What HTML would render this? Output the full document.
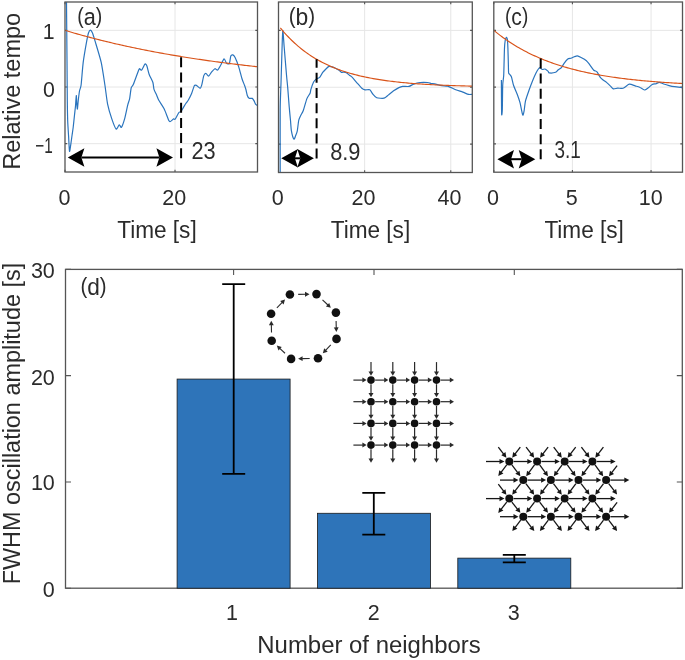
<!DOCTYPE html>
<html><head><meta charset="utf-8"><title>Figure</title>
<style>html,body{margin:0;padding:0;background:#fff;width:685px;height:660px;overflow:hidden}svg{display:block}</style>
</head><body>
<svg width="685" height="660" viewBox="0 0 685 660" font-family='"Liberation Sans", sans-serif' fill="#2b2b2b">
<rect x="0" y="0" width="685" height="660" fill="#ffffff"/>
<clipPath id="clipa"><rect x="65" y="2" width="192.5" height="170"/></clipPath>
<path d="M175 2V172M65 30.33H257.5M65 87H257.5M65 143.67H257.5" stroke="#e6e6e6" stroke-width="1" fill="none"/>
<path d="M65 172v-2.2M65 2v2.2M175 172v-2.2M175 2v2.2M65 30.33h2.2M257.5 30.33h-2.2M65 87h2.2M257.5 87h-2.2M65 143.67h2.2M257.5 143.67h-2.2" stroke="#555555" stroke-width="1.1" fill="none"/>
<g clip-path="url(#clipa)">
<path d="M66.5 2C66.56 8.77 66.91 48.57 67 60C67.09 71.43 67.22 92.88 67.3 100C67.38 107.12 67.55 116.75 67.7 121C67.85 125.25 68.39 132.87 68.6 136.4C68.81 139.94 69.23 150.46 69.5 151.3C69.77 152.14 70.6 145.5 70.9 143.6C71.2 141.7 71.83 136.9 72.1 135C72.37 133.1 72.92 129.63 73.2 127.3C73.48 124.97 74.23 117.48 74.5 115C74.77 112.52 75.29 108.28 75.5 106C75.71 103.72 76.15 95.73 76.3 95.5C76.45 95.27 76.67 102.42 76.8 104C76.93 105.58 77.23 109.47 77.4 109C77.58 108.53 78.05 102.1 78.3 100C78.55 97.9 79.17 92.75 79.5 91C79.83 89.25 80.67 88.34 81.1 85C81.53 81.66 82.55 67.51 83.2 62.4C83.85 57.29 86.08 44.63 86.7 41.2C87.32 37.77 88.07 34.3 88.5 33C88.93 31.7 89.93 30.1 90.4 30.1C90.87 30.1 91.95 31.7 92.5 33C93.05 34.3 94.08 37.77 95.1 41.2C96.11 44.63 100.06 57.29 101.2 62.4C102.34 67.51 104.15 80.14 104.9 85C105.65 89.86 106.8 100.14 107.6 104.1C108.4 108.05 110.81 116 111.8 118.9C112.79 121.81 115.22 128.31 116.1 129C116.97 129.69 118.68 124.99 119.3 124.8C119.92 124.61 120.78 128.09 121.4 127.4C122.02 126.71 123.86 121.5 124.6 118.9C125.33 116.3 127.12 107.43 127.7 105.1C128.28 102.77 129.19 100.92 129.6 98.9C130.01 96.88 130.77 89.47 131.2 87.8C131.63 86.13 132.44 86.64 133.3 84.6C134.16 82.56 137.85 72.16 138.6 70.3C139.35 68.44 139.35 68.72 139.7 68.7C140.05 68.68 140.98 70.64 141.6 70.1C142.22 69.56 144.38 64.57 145 64.1C145.62 63.63 146.41 64.89 146.9 66.1C147.39 67.31 148.5 72.59 149.2 74.5C149.9 76.41 152.34 80.76 152.9 82.5C153.46 84.24 153.57 87.94 154 89.4C154.43 90.86 156.04 93.73 156.6 95C157.16 96.27 157.93 98.69 158.8 100.3C159.68 101.91 162.93 106.44 164.1 108.8C165.27 111.16 168.06 119.02 168.8 120.5C169.54 121.98 169.84 121.69 170.4 121.5C170.96 121.31 173.04 119.17 173.6 118.9C174.16 118.63 174.58 119.95 175.2 119.2C175.82 118.45 178.22 113.41 178.9 112.5C179.58 111.59 180.19 112.45 181 111.4C181.81 110.35 184.94 104.83 185.8 103.5C186.66 102.17 187.72 101.16 188.4 100C189.08 98.84 190.91 95.27 191.6 93.6C192.29 91.93 193.74 86.66 194.3 85.7C194.86 84.74 195.72 85.1 196.4 85.4C197.08 85.7 199.48 88.33 200.1 88.3C200.72 88.27 201.27 86.58 201.7 85.1C202.13 83.62 203.31 76.98 203.8 75.6C204.29 74.22 205.34 73.24 205.9 73.3C206.46 73.36 207.92 76.26 208.6 76.1C209.28 75.94 210.96 72.76 211.7 71.9C212.44 71.04 214.21 68.91 214.9 68.7C215.59 68.49 216.91 70.53 217.6 70.1C218.29 69.67 220.04 66.32 220.8 65C221.56 63.68 223.42 58.99 224.1 58.8C224.78 58.61 225.98 62.86 226.6 63.4C227.22 63.94 228.91 64.26 229.4 63.4C229.89 62.54 230.39 56.99 230.8 56C231.21 55.01 232.4 54.71 232.9 54.9C233.4 55.09 234.41 56.18 235.1 57.6C235.79 59.02 238 64.63 238.8 67.1C239.61 69.57 241.32 76.65 242 78.8C242.68 80.95 244.14 84.25 244.6 85.5C245.06 86.75 245.59 88.33 245.9 89.5C246.22 90.67 246.93 94.48 247.3 95.5C247.67 96.52 248.52 97.86 249.1 98.2C249.68 98.54 251.72 98.09 252.3 98.4C252.88 98.72 253.73 100.24 254.1 100.9C254.47 101.56 255.13 103.56 255.5 104.1C255.87 104.64 257.09 105.34 257.3 105.5" fill="none" stroke="#2a74bd" stroke-width="1.2" stroke-linejoin="round"/>
<polyline points="65,30.33 66.6,30.82 68.21,31.3 69.81,31.77 71.42,32.24 73.02,32.71 74.62,33.18 76.23,33.64 77.83,34.09 79.44,34.54 81.04,34.99 82.65,35.44 84.25,35.88 85.85,36.31 87.46,36.75 89.06,37.18 90.67,37.6 92.27,38.02 93.88,38.44 95.48,38.86 97.08,39.27 98.69,39.67 100.29,40.08 101.9,40.48 103.5,40.88 105.1,41.27 106.71,41.66 108.31,42.05 109.92,42.43 111.52,42.81 113.12,43.19 114.73,43.57 116.33,43.94 117.94,44.3 119.54,44.67 121.15,45.03 122.75,45.39 124.35,45.74 125.96,46.1 127.56,46.45 129.17,46.79 130.77,47.14 132.38,47.48 133.98,47.81 135.58,48.15 137.19,48.48 138.79,48.81 140.4,49.14 142,49.46 143.6,49.78 145.21,50.1 146.81,50.41 148.42,50.73 150.02,51.04 151.62,51.34 153.23,51.65 154.83,51.95 156.44,52.25 158.04,52.55 159.65,52.84 161.25,53.13 162.85,53.42 164.46,53.71 166.06,53.99 167.67,54.27 169.27,54.55 170.88,54.83 172.48,55.11 174.08,55.38 175.69,55.65 177.29,55.92 178.9,56.18 180.5,56.44 182.1,56.71 183.71,56.96 185.31,57.22 186.92,57.48 188.52,57.73 190.12,57.98 191.73,58.23 193.33,58.47 194.94,58.71 196.54,58.96 198.15,59.2 199.75,59.43 201.35,59.67 202.96,59.9 204.56,60.13 206.17,60.36 207.77,60.59 209.38,60.82 210.98,61.04 212.58,61.26 214.19,61.48 215.79,61.7 217.4,61.92 219,62.13 220.6,62.34 222.21,62.55 223.81,62.76 225.42,62.97 227.02,63.17 228.62,63.38 230.23,63.58 231.83,63.78 233.44,63.98 235.04,64.17 236.65,64.37 238.25,64.56 239.85,64.75 241.46,64.94 243.06,65.13 244.67,65.32 246.27,65.5 247.88,65.69 249.48,65.87 251.08,66.05 252.69,66.23 254.29,66.41 255.9,66.58 257.5,66.76" fill="none" stroke="#D95319" stroke-width="1.15"/>
</g>
<line x1="181.1" y1="158.2" x2="181.1" y2="56.54" stroke="#000" stroke-width="2" stroke-dasharray="10 5.15"/>
<line x1="81.4" y1="157.5" x2="159.4" y2="157.5" stroke="#000" stroke-width="2"/>
<polygon points="67.8,157.5 84.4,148.3 81.4,157.5 84.4,166.7" fill="#000"/>
<polygon points="173,157.5 156.4,148.3 159.4,157.5 156.4,166.7" fill="#000"/>
<rect x="65" y="2" width="192.5" height="170" fill="none" stroke="#555555" stroke-width="1.3"/>
<clipPath id="clipb"><rect x="278.5" y="2" width="193.8" height="170.5"/></clipPath>
<path d="M364.63 2V172.5M450.77 2V172.5M278.5 30.42H472.3M278.5 87.25H472.3M278.5 144.08H472.3" stroke="#e6e6e6" stroke-width="1" fill="none"/>
<path d="M278.5 172.5v-2.2M278.5 2v2.2M364.63 172.5v-2.2M364.63 2v2.2M450.77 172.5v-2.2M450.77 2v2.2M278.5 30.42h2.2M472.3 30.42h-2.2M278.5 87.25h2.2M472.3 87.25h-2.2M278.5 144.08h2.2M472.3 144.08h-2.2" stroke="#555555" stroke-width="1.1" fill="none"/>
<g clip-path="url(#clipb)">
<path d="M280.2 172C280.2 164.71 280.11 119.86 280.2 109.5C280.29 99.14 280.79 90.14 281 83.2C281.21 76.26 281.79 56.15 282 50C282.21 43.85 282.54 30.82 282.8 30.5C283.06 30.18 283.77 42.11 284.2 47.3C284.63 52.49 286.08 70.18 286.5 75C286.92 79.82 287.49 84.89 287.8 88.6C288.12 92.31 288.88 103.08 289.2 106.8C289.51 110.52 290.24 117.7 290.5 120.5C290.76 123.3 291 128.62 291.4 130.8C291.8 132.98 293.41 138.62 293.9 139.2C294.39 139.78 295.2 136.78 295.6 135.8C296 134.82 296.94 132.59 297.3 130.8C297.66 129.02 298.33 122.24 298.7 120.5C299.07 118.76 299.96 117.07 300.5 115.9C301.04 114.73 302.55 112.52 303.3 110.5C304.05 108.48 306.11 100.62 306.9 98.6C307.69 96.58 309.63 94.27 310.1 93.2C310.57 92.13 310.49 90.7 310.9 89.4C311.31 88.11 312.99 83.3 313.6 82.1C314.21 80.9 315.39 79.66 316.1 79.1C316.81 78.54 318.93 78.08 319.7 77.3C320.47 76.52 321.99 73.36 322.7 72.4C323.41 71.44 325.09 69.8 325.8 69.1C326.51 68.4 328.17 66.68 328.8 66.4C329.43 66.12 330.42 66.49 331.2 66.7C331.98 66.91 334.58 67.78 335.5 68.2C336.42 68.62 338.4 69.81 339.1 70.3C339.8 70.79 340.94 72.19 341.5 72.4C342.06 72.61 343.33 72.06 343.9 72.1C344.47 72.13 345.76 72.34 346.4 72.7C347.04 73.06 348.71 74.65 349.4 75.2C350.09 75.75 351.47 76.57 352.3 77.4C353.13 78.23 355.39 81.04 356.5 82.3C357.61 83.56 360.81 87.33 361.8 88.2C362.79 89.08 364.07 89.61 365 89.8C365.93 89.99 368.94 89.37 369.8 89.8C370.66 90.23 371.59 92.58 372.4 93.5C373.2 94.42 375.33 97.15 376.7 97.7C378.06 98.25 382.75 98.5 384.1 98.2C385.45 97.9 387.19 95.96 388.3 95.1C389.41 94.24 392.36 91.67 393.6 90.8C394.84 89.92 397.85 88.11 398.9 87.6C399.95 87.09 401.42 86.54 402.6 86.4C403.78 86.26 407.7 86.67 409 86.4C410.3 86.13 412.4 84.55 413.7 84.1C415 83.64 418.47 82.69 420.1 82.5C421.73 82.31 426.4 82.38 427.7 82.5C429 82.62 430.38 83.34 431.2 83.5C432.02 83.66 433.47 83.66 434.7 83.9C435.93 84.15 440.19 85.33 441.7 85.6C443.2 85.87 445.97 85.72 447.6 86.2C449.23 86.68 453.93 89.01 455.7 89.7C457.47 90.39 461.3 91.55 462.8 92.1C464.31 92.65 467.52 94.13 468.6 94.4C469.69 94.67 471.69 94.4 472.1 94.4" fill="none" stroke="#2a74bd" stroke-width="1.2" stroke-linejoin="round"/>
<polyline points="280.39,27.96 281.99,29.89 283.59,31.77 285.19,33.57 286.79,35.33 288.39,37.02 289.99,38.66 291.59,40.24 293.19,41.77 294.79,43.26 296.39,44.69 297.99,46.08 299.59,47.42 301.18,48.72 302.78,49.98 304.38,51.19 305.98,52.37 307.58,53.51 309.18,54.61 310.78,55.67 312.38,56.7 313.98,57.7 315.58,58.66 317.18,59.59 318.78,60.5 320.38,61.37 321.97,62.21 323.57,63.03 325.17,63.82 326.77,64.58 328.37,65.32 329.97,66.04 331.57,66.73 333.17,67.4 334.77,68.05 336.37,68.67 337.97,69.28 339.57,69.86 341.16,70.43 342.76,70.98 344.36,71.51 345.96,72.02 347.56,72.52 349.16,73 350.76,73.46 352.36,73.91 353.96,74.35 355.56,74.77 357.16,75.18 358.76,75.57 360.36,75.95 361.95,76.32 363.55,76.68 365.15,77.02 366.75,77.35 368.35,77.68 369.95,77.99 371.55,78.29 373.15,78.58 374.75,78.87 376.35,79.14 377.95,79.4 379.55,79.66 381.15,79.91 382.74,80.15 384.34,80.38 385.94,80.6 387.54,80.82 389.14,81.03 390.74,81.23 392.34,81.43 393.94,81.62 395.54,81.8 397.14,81.98 398.74,82.15 400.34,82.32 401.93,82.48 403.53,82.63 405.13,82.78 406.73,82.93 408.33,83.07 409.93,83.21 411.53,83.34 413.13,83.47 414.73,83.59 416.33,83.71 417.93,83.82 419.53,83.94 421.13,84.04 422.72,84.15 424.32,84.25 425.92,84.35 427.52,84.44 429.12,84.53 430.72,84.62 432.32,84.71 433.92,84.79 435.52,84.87 437.12,84.95 438.72,85.02 440.32,85.1 441.92,85.17 443.51,85.23 445.11,85.3 446.71,85.36 448.31,85.43 449.91,85.49 451.51,85.54 453.11,85.6 454.71,85.65 456.31,85.7 457.91,85.75 459.51,85.8 461.11,85.85 462.7,85.9 464.3,85.94 465.9,85.98 467.5,86.02 469.1,86.06 470.7,86.1 472.3,86.14" fill="none" stroke="#D95319" stroke-width="1.15"/>
</g>
<line x1="316.6" y1="158.6" x2="316.6" y2="59.26" stroke="#000" stroke-width="2" stroke-dasharray="10 5.15"/>
<line x1="294.9" y1="158.3" x2="300.3" y2="158.3" stroke="#000" stroke-width="2"/>
<polygon points="281.3,158.3 297.9,149.1 294.9,158.3 297.9,167.5" fill="#000"/>
<polygon points="313.9,158.3 297.3,149.1 300.3,158.3 297.3,167.5" fill="#000"/>
<rect x="278.5" y="2" width="193.8" height="170.5" fill="none" stroke="#555555" stroke-width="1.3"/>
<clipPath id="clipc"><rect x="493.8" y="2" width="188.7" height="170.2"/></clipPath>
<path d="M572.42 2V172.2M651.05 2V172.2M493.8 30.37H682.5M493.8 87.1H682.5M493.8 143.83H682.5" stroke="#e6e6e6" stroke-width="1" fill="none"/>
<path d="M493.8 172.2v-2.2M493.8 2v2.2M572.42 172.2v-2.2M572.42 2v2.2M651.05 172.2v-2.2M651.05 2v2.2M493.8 30.37h2.2M682.5 30.37h-2.2M493.8 87.1h2.2M682.5 87.1h-2.2M493.8 143.83h2.2M682.5 143.83h-2.2" stroke="#555555" stroke-width="1.1" fill="none"/>
<g clip-path="url(#clipc)">
<path d="M501.4 80C501.42 83.92 501.5 110.1 501.6 113.6C501.71 117.1 502.17 113.28 502.3 110C502.43 106.72 502.54 89.53 502.7 85.5C502.86 81.47 503.54 78.24 503.7 75.5C503.86 72.76 504.01 65.21 504.1 62C504.19 58.79 504.37 50.51 504.5 48C504.63 45.49 504.98 41.75 505.2 40.5C505.42 39.25 506.14 37.42 506.4 37.3C506.66 37.18 507.22 38.25 507.4 39.5C507.57 40.75 507.79 45.38 507.9 48C508 50.62 508.22 59.08 508.3 62C508.38 64.92 508.51 71.65 508.6 73C508.69 74.35 508.77 73.16 509.1 73.6C509.43 74.04 510.88 75.41 511.4 76.8C511.92 78.19 512.91 83.44 513.6 85.5C514.29 87.56 516.55 92.49 517.3 94.5C518.05 96.51 519.37 100.31 520 102.7C520.63 105.09 522.22 114.04 522.7 115C523.18 115.96 523.77 112.55 524.1 110.9C524.43 109.26 524.92 103.34 525.5 100.9C526.08 98.46 528.26 92.38 529.1 90C529.94 87.62 531.9 82.48 532.7 80.5C533.5 78.52 535.38 74.28 536 73C536.62 71.72 537.53 70.12 538 69.5C538.47 68.88 539.5 67.7 540 67.7C540.5 67.7 541.72 69.35 542.3 69.5C542.88 69.65 544.31 68.78 545 69C545.69 69.22 547.71 70.95 548.2 71.4C548.69 71.86 548.34 72.8 549.2 72.9C550.06 73.01 554.54 72.67 555.6 72.3C556.66 71.93 557.62 70.25 558.3 69.7C558.98 69.15 560.72 68.35 561.4 67.6C562.08 66.85 563.35 64.29 564.1 63.3C564.85 62.31 567 59.7 567.8 59.1C568.6 58.51 570.25 58.47 571 58.2C571.75 57.93 573.47 57.07 574.2 56.8C574.94 56.53 576.5 55.82 577.3 55.9C578.1 55.98 580.04 56.94 581.1 57.5C582.16 58.06 585.42 59.9 586.4 60.7C587.38 61.51 588.64 63.29 589.5 64.4C590.36 65.51 592.92 69.34 593.8 70.2C594.67 71.06 596.26 71 597 71.8C597.74 72.6 599.42 76.17 600.1 77.1C600.78 78.03 602.05 79.18 602.8 79.8C603.55 80.42 605.66 81.72 606.5 82.4C607.34 83.08 609.21 84.84 610 85.6C610.79 86.36 612.4 88.61 613.3 88.9C614.2 89.19 616.56 88.17 617.7 88.1C618.84 88.03 621.76 88.75 623.1 88.3C624.44 87.84 627.79 84.48 629.2 84.2C630.61 83.92 633.99 85.55 635.2 85.9C636.41 86.25 638.51 86.72 639.6 87.2C640.69 87.68 643.49 89.93 644.5 90C645.51 90.07 647.4 88.44 648.3 87.8C649.2 87.16 651.3 84.98 652.2 84.5C653.1 84.02 655.17 83.96 656 83.7C656.83 83.44 658.4 82.27 659.3 82.3C660.2 82.33 662.56 83.61 663.7 84C664.84 84.39 667.83 85.28 669.1 85.6C670.37 85.91 673.06 86.47 674.6 86.7C676.14 86.93 681.4 87.49 682.3 87.6" fill="none" stroke="#2a74bd" stroke-width="1.2" stroke-linejoin="round"/>
<polyline points="493.8,30.37 495.37,31.66 496.94,32.92 498.52,34.15 500.09,35.35 501.66,36.53 503.24,37.68 504.81,38.8 506.38,39.9 507.95,40.97 509.53,42.02 511.1,43.04 512.67,44.04 514.24,45.02 515.82,45.98 517.39,46.91 518.96,47.83 520.53,48.72 522.11,49.59 523.68,50.44 525.25,51.28 526.82,52.09 528.39,52.89 529.97,53.66 531.54,54.42 533.11,55.17 534.69,55.89 536.26,56.6 537.83,57.29 539.4,57.97 540.98,58.63 542.55,59.28 544.12,59.91 545.69,60.53 547.26,61.13 548.84,61.73 550.41,62.3 551.98,62.87 553.56,63.42 555.13,63.95 556.7,64.48 558.27,64.99 559.85,65.5 561.42,65.99 562.99,66.47 564.56,66.94 566.13,67.39 567.71,67.84 569.28,68.28 570.85,68.71 572.42,69.13 574,69.53 575.57,69.93 577.14,70.32 578.72,70.7 580.29,71.08 581.86,71.44 583.43,71.8 585,72.15 586.58,72.49 588.15,72.82 589.72,73.14 591.3,73.46 592.87,73.77 594.44,74.07 596.01,74.37 597.59,74.66 599.16,74.94 600.73,75.22 602.3,75.49 603.88,75.75 605.45,76.01 607.02,76.26 608.59,76.51 610.16,76.75 611.74,76.98 613.31,77.21 614.88,77.44 616.46,77.66 618.03,77.87 619.6,78.08 621.17,78.29 622.75,78.49 624.32,78.68 625.89,78.87 627.46,79.06 629.03,79.24 630.61,79.42 632.18,79.6 633.75,79.77 635.33,79.93 636.9,80.1 638.47,80.26 640.04,80.41 641.62,80.56 643.19,80.71 644.76,80.86 646.33,81 647.9,81.14 649.48,81.27 651.05,81.41 652.62,81.53 654.19,81.66 655.77,81.78 657.34,81.91 658.91,82.02 660.49,82.14 662.06,82.25 663.63,82.36 665.2,82.47 666.77,82.57 668.35,82.68 669.92,82.78 671.49,82.88 673.07,82.97 674.64,83.07 676.21,83.16 677.78,83.25 679.36,83.34 680.93,83.42 682.5,83.5" fill="none" stroke="#D95319" stroke-width="1.15"/>
</g>
<line x1="540.7" y1="159.3" x2="540.7" y2="58.52" stroke="#000" stroke-width="2" stroke-dasharray="10 5.15"/>
<line x1="511" y1="159.2" x2="521.7" y2="159.2" stroke="#000" stroke-width="2"/>
<polygon points="497.4,159.2 514,150 511,159.2 514,168.4" fill="#000"/>
<polygon points="535.3,159.2 518.7,150 521.7,159.2 518.7,168.4" fill="#000"/>
<rect x="493.8" y="2" width="188.7" height="170.2" fill="none" stroke="#555555" stroke-width="1.3"/>
<path d="M233.6 588.2v-5.5M233.6 269.4v5.5M374 588.2v-5.5M374 269.4v5.5M514.3 588.2v-5.5M514.3 269.4v5.5M65.5 588.2h5.5M682.3 588.2h-5.5M65.5 481.93h5.5M682.3 481.93h-5.5M65.5 375.67h5.5M682.3 375.67h-5.5M65.5 269.4h5.5M682.3 269.4h-5.5" stroke="#555555" stroke-width="1.1" fill="none"/>
<rect x="65.5" y="269.4" width="616.8" height="318.8" fill="none" stroke="#555555" stroke-width="1.3"/>
<rect x="177.1" y="379.07" width="113" height="209.13" fill="#2E74B9" stroke="#1a1a1a" stroke-width="0.8"/>
<rect x="317.5" y="513.28" width="113" height="74.92" fill="#2E74B9" stroke="#1a1a1a" stroke-width="0.8"/>
<rect x="457.8" y="558.13" width="113" height="30.07" fill="#2E74B9" stroke="#1a1a1a" stroke-width="0.8"/>
<path d="M233.7 284.1V473.8M222.2 284.1h23M222.2 473.8h23" stroke="#000" stroke-width="1.8" fill="none"/>
<path d="M373.8 492.8V534.6M362.3 492.8h23M362.3 534.6h23" stroke="#000" stroke-width="1.8" fill="none"/>
<path d="M514.3 554.9V562.3M502.8 554.9h23M502.8 562.3h23" stroke="#000" stroke-width="1.8" fill="none"/>
<line x1="298.2" y1="294.38" x2="305.5" y2="294.27" stroke="#2a2a2a" stroke-width="1.1"/><polygon points="309.5,294.21 305.04,296.67 304.97,291.87" fill="#2a2a2a"/>
<line x1="322.51" y1="299.83" x2="327.94" y2="305.01" stroke="#2a2a2a" stroke-width="1.1"/><polygon points="330.83,307.77 325.92,306.4 329.23,302.93" fill="#2a2a2a"/>
<line x1="336.09" y1="320.9" x2="336.25" y2="327.9" stroke="#2a2a2a" stroke-width="1.1"/><polygon points="336.34,331.9 333.84,327.46 338.64,327.35" fill="#2a2a2a"/>
<line x1="330.77" y1="344.91" x2="325.59" y2="350.34" stroke="#2a2a2a" stroke-width="1.1"/><polygon points="322.83,353.23 324.2,348.32 327.67,351.63" fill="#2a2a2a"/>
<line x1="309.7" y1="358.49" x2="302.1" y2="358.65" stroke="#2a2a2a" stroke-width="1.1"/><polygon points="298.1,358.74 302.54,356.24 302.65,361.04" fill="#2a2a2a"/>
<line x1="285.03" y1="353.24" x2="279.74" y2="348.3" stroke="#2a2a2a" stroke-width="1.1"/><polygon points="276.82,345.58 281.75,346.89 278.47,350.4" fill="#2a2a2a"/>
<line x1="271.52" y1="332.5" x2="271.34" y2="324.8" stroke="#2a2a2a" stroke-width="1.1"/><polygon points="271.26,320.8 273.75,325.24 268.96,325.35" fill="#2a2a2a"/>
<line x1="276.89" y1="307.85" x2="282.22" y2="302.38" stroke="#2a2a2a" stroke-width="1.1"/><polygon points="285.02,299.51 283.59,304.41 280.16,301.06" fill="#2a2a2a"/>
<circle cx="289.9" cy="294.5" r="4.3" fill="#111"/>
<circle cx="316.5" cy="294.1" r="4.3" fill="#111"/>
<circle cx="335.9" cy="312.6" r="4.3" fill="#111"/>
<circle cx="336.5" cy="338.9" r="4.3" fill="#111"/>
<circle cx="318" cy="358.3" r="4.3" fill="#111"/>
<circle cx="291.1" cy="358.9" r="4.3" fill="#111"/>
<circle cx="271.7" cy="340.8" r="4.3" fill="#111"/>
<circle cx="271.1" cy="313.8" r="4.3" fill="#111"/>
<line x1="353.4" y1="380.1" x2="362.9" y2="380.1" stroke="#2a2a2a" stroke-width="1.2"/><polygon points="366.6,380.1 362.4,382.6 362.4,377.6" fill="#2a2a2a"/>
<line x1="375.1" y1="380.1" x2="384.7" y2="380.1" stroke="#2a2a2a" stroke-width="1.2"/><polygon points="388.4,380.1 384.2,382.6 384.2,377.6" fill="#2a2a2a"/>
<line x1="396.9" y1="380.1" x2="406.5" y2="380.1" stroke="#2a2a2a" stroke-width="1.2"/><polygon points="410.2,380.1 406,382.6 406,377.6" fill="#2a2a2a"/>
<line x1="418.7" y1="380.1" x2="428.4" y2="380.1" stroke="#2a2a2a" stroke-width="1.2"/><polygon points="432.1,380.1 427.9,382.6 427.9,377.6" fill="#2a2a2a"/>
<line x1="440.6" y1="380.1" x2="450.3" y2="380.1" stroke="#2a2a2a" stroke-width="1.2"/><polygon points="454,380.1 449.8,382.6 449.8,377.6" fill="#2a2a2a"/>
<line x1="353.4" y1="401.7" x2="362.9" y2="401.7" stroke="#2a2a2a" stroke-width="1.2"/><polygon points="366.6,401.7 362.4,404.2 362.4,399.2" fill="#2a2a2a"/>
<line x1="375.1" y1="401.7" x2="384.7" y2="401.7" stroke="#2a2a2a" stroke-width="1.2"/><polygon points="388.4,401.7 384.2,404.2 384.2,399.2" fill="#2a2a2a"/>
<line x1="396.9" y1="401.7" x2="406.5" y2="401.7" stroke="#2a2a2a" stroke-width="1.2"/><polygon points="410.2,401.7 406,404.2 406,399.2" fill="#2a2a2a"/>
<line x1="418.7" y1="401.7" x2="428.4" y2="401.7" stroke="#2a2a2a" stroke-width="1.2"/><polygon points="432.1,401.7 427.9,404.2 427.9,399.2" fill="#2a2a2a"/>
<line x1="440.6" y1="401.7" x2="450.3" y2="401.7" stroke="#2a2a2a" stroke-width="1.2"/><polygon points="454,401.7 449.8,404.2 449.8,399.2" fill="#2a2a2a"/>
<line x1="353.4" y1="423.4" x2="362.9" y2="423.4" stroke="#2a2a2a" stroke-width="1.2"/><polygon points="366.6,423.4 362.4,425.9 362.4,420.9" fill="#2a2a2a"/>
<line x1="375.1" y1="423.4" x2="384.7" y2="423.4" stroke="#2a2a2a" stroke-width="1.2"/><polygon points="388.4,423.4 384.2,425.9 384.2,420.9" fill="#2a2a2a"/>
<line x1="396.9" y1="423.4" x2="406.5" y2="423.4" stroke="#2a2a2a" stroke-width="1.2"/><polygon points="410.2,423.4 406,425.9 406,420.9" fill="#2a2a2a"/>
<line x1="418.7" y1="423.4" x2="428.4" y2="423.4" stroke="#2a2a2a" stroke-width="1.2"/><polygon points="432.1,423.4 427.9,425.9 427.9,420.9" fill="#2a2a2a"/>
<line x1="440.6" y1="423.4" x2="450.3" y2="423.4" stroke="#2a2a2a" stroke-width="1.2"/><polygon points="454,423.4 449.8,425.9 449.8,420.9" fill="#2a2a2a"/>
<line x1="353.4" y1="445.1" x2="362.9" y2="445.1" stroke="#2a2a2a" stroke-width="1.2"/><polygon points="366.6,445.1 362.4,447.6 362.4,442.6" fill="#2a2a2a"/>
<line x1="375.1" y1="445.1" x2="384.7" y2="445.1" stroke="#2a2a2a" stroke-width="1.2"/><polygon points="388.4,445.1 384.2,447.6 384.2,442.6" fill="#2a2a2a"/>
<line x1="396.9" y1="445.1" x2="406.5" y2="445.1" stroke="#2a2a2a" stroke-width="1.2"/><polygon points="410.2,445.1 406,447.6 406,442.6" fill="#2a2a2a"/>
<line x1="418.7" y1="445.1" x2="428.4" y2="445.1" stroke="#2a2a2a" stroke-width="1.2"/><polygon points="432.1,445.1 427.9,447.6 427.9,442.6" fill="#2a2a2a"/>
<line x1="440.6" y1="445.1" x2="450.3" y2="445.1" stroke="#2a2a2a" stroke-width="1.2"/><polygon points="454,445.1 449.8,447.6 449.8,442.6" fill="#2a2a2a"/>
<line x1="371" y1="362.1" x2="371" y2="372" stroke="#2a2a2a" stroke-width="1.2"/><polygon points="371,375.7 368.5,371.5 373.5,371.5" fill="#2a2a2a"/>
<line x1="371" y1="384.2" x2="371" y2="393.6" stroke="#2a2a2a" stroke-width="1.2"/><polygon points="371,397.3 368.5,393.1 373.5,393.1" fill="#2a2a2a"/>
<line x1="371" y1="405.8" x2="371" y2="415.3" stroke="#2a2a2a" stroke-width="1.2"/><polygon points="371,419 368.5,414.8 373.5,414.8" fill="#2a2a2a"/>
<line x1="371" y1="427.5" x2="371" y2="437" stroke="#2a2a2a" stroke-width="1.2"/><polygon points="371,440.7 368.5,436.5 373.5,436.5" fill="#2a2a2a"/>
<line x1="371" y1="449.2" x2="371" y2="459" stroke="#2a2a2a" stroke-width="1.2"/><polygon points="371,462.7 368.5,458.5 373.5,458.5" fill="#2a2a2a"/>
<line x1="392.8" y1="362.1" x2="392.8" y2="372" stroke="#2a2a2a" stroke-width="1.2"/><polygon points="392.8,375.7 390.3,371.5 395.3,371.5" fill="#2a2a2a"/>
<line x1="392.8" y1="384.2" x2="392.8" y2="393.6" stroke="#2a2a2a" stroke-width="1.2"/><polygon points="392.8,397.3 390.3,393.1 395.3,393.1" fill="#2a2a2a"/>
<line x1="392.8" y1="405.8" x2="392.8" y2="415.3" stroke="#2a2a2a" stroke-width="1.2"/><polygon points="392.8,419 390.3,414.8 395.3,414.8" fill="#2a2a2a"/>
<line x1="392.8" y1="427.5" x2="392.8" y2="437" stroke="#2a2a2a" stroke-width="1.2"/><polygon points="392.8,440.7 390.3,436.5 395.3,436.5" fill="#2a2a2a"/>
<line x1="392.8" y1="449.2" x2="392.8" y2="459" stroke="#2a2a2a" stroke-width="1.2"/><polygon points="392.8,462.7 390.3,458.5 395.3,458.5" fill="#2a2a2a"/>
<line x1="414.6" y1="362.1" x2="414.6" y2="372" stroke="#2a2a2a" stroke-width="1.2"/><polygon points="414.6,375.7 412.1,371.5 417.1,371.5" fill="#2a2a2a"/>
<line x1="414.6" y1="384.2" x2="414.6" y2="393.6" stroke="#2a2a2a" stroke-width="1.2"/><polygon points="414.6,397.3 412.1,393.1 417.1,393.1" fill="#2a2a2a"/>
<line x1="414.6" y1="405.8" x2="414.6" y2="415.3" stroke="#2a2a2a" stroke-width="1.2"/><polygon points="414.6,419 412.1,414.8 417.1,414.8" fill="#2a2a2a"/>
<line x1="414.6" y1="427.5" x2="414.6" y2="437" stroke="#2a2a2a" stroke-width="1.2"/><polygon points="414.6,440.7 412.1,436.5 417.1,436.5" fill="#2a2a2a"/>
<line x1="414.6" y1="449.2" x2="414.6" y2="459" stroke="#2a2a2a" stroke-width="1.2"/><polygon points="414.6,462.7 412.1,458.5 417.1,458.5" fill="#2a2a2a"/>
<line x1="436.5" y1="362.1" x2="436.5" y2="372" stroke="#2a2a2a" stroke-width="1.2"/><polygon points="436.5,375.7 434,371.5 439,371.5" fill="#2a2a2a"/>
<line x1="436.5" y1="384.2" x2="436.5" y2="393.6" stroke="#2a2a2a" stroke-width="1.2"/><polygon points="436.5,397.3 434,393.1 439,393.1" fill="#2a2a2a"/>
<line x1="436.5" y1="405.8" x2="436.5" y2="415.3" stroke="#2a2a2a" stroke-width="1.2"/><polygon points="436.5,419 434,414.8 439,414.8" fill="#2a2a2a"/>
<line x1="436.5" y1="427.5" x2="436.5" y2="437" stroke="#2a2a2a" stroke-width="1.2"/><polygon points="436.5,440.7 434,436.5 439,436.5" fill="#2a2a2a"/>
<line x1="436.5" y1="449.2" x2="436.5" y2="459" stroke="#2a2a2a" stroke-width="1.2"/><polygon points="436.5,462.7 434,458.5 439,458.5" fill="#2a2a2a"/>
<circle cx="371" cy="380.1" r="3.8" fill="#111"/>
<circle cx="371" cy="401.7" r="3.8" fill="#111"/>
<circle cx="371" cy="423.4" r="3.8" fill="#111"/>
<circle cx="371" cy="445.1" r="3.8" fill="#111"/>
<circle cx="392.8" cy="380.1" r="3.8" fill="#111"/>
<circle cx="392.8" cy="401.7" r="3.8" fill="#111"/>
<circle cx="392.8" cy="423.4" r="3.8" fill="#111"/>
<circle cx="392.8" cy="445.1" r="3.8" fill="#111"/>
<circle cx="414.6" cy="380.1" r="3.8" fill="#111"/>
<circle cx="414.6" cy="401.7" r="3.8" fill="#111"/>
<circle cx="414.6" cy="423.4" r="3.8" fill="#111"/>
<circle cx="414.6" cy="445.1" r="3.8" fill="#111"/>
<circle cx="436.5" cy="380.1" r="3.8" fill="#111"/>
<circle cx="436.5" cy="401.7" r="3.8" fill="#111"/>
<circle cx="436.5" cy="423.4" r="3.8" fill="#111"/>
<circle cx="436.5" cy="445.1" r="3.8" fill="#111"/>
<line x1="486" y1="461.5" x2="500" y2="461.5" stroke="#161616" stroke-width="1.3"/><polygon points="504.5,461.5 499.5,464.1 499.5,458.9" fill="#161616"/>
<line x1="513.6" y1="461.5" x2="527.8" y2="461.5" stroke="#161616" stroke-width="1.3"/><polygon points="532.3,461.5 527.3,464.1 527.3,458.9" fill="#161616"/>
<line x1="541.4" y1="461.5" x2="555.4" y2="461.5" stroke="#161616" stroke-width="1.3"/><polygon points="559.9,461.5 554.9,464.1 554.9,458.9" fill="#161616"/>
<line x1="569" y1="461.5" x2="583.1" y2="461.5" stroke="#161616" stroke-width="1.3"/><polygon points="587.6,461.5 582.6,464.1 582.6,458.9" fill="#161616"/>
<line x1="596.7" y1="461.5" x2="611.1" y2="461.5" stroke="#161616" stroke-width="1.3"/><polygon points="615.6,461.5 610.6,464.1 610.6,458.9" fill="#161616"/>
<line x1="500" y1="480.1" x2="514" y2="480.1" stroke="#161616" stroke-width="1.3"/><polygon points="518.5,480.1 513.5,482.7 513.5,477.5" fill="#161616"/>
<line x1="527.6" y1="480.1" x2="541.6" y2="480.1" stroke="#161616" stroke-width="1.3"/><polygon points="546.1,480.1 541.1,482.7 541.1,477.5" fill="#161616"/>
<line x1="555.2" y1="480.1" x2="569.2" y2="480.1" stroke="#161616" stroke-width="1.3"/><polygon points="573.7,480.1 568.7,482.7 568.7,477.5" fill="#161616"/>
<line x1="582.8" y1="480.1" x2="596.8" y2="480.1" stroke="#161616" stroke-width="1.3"/><polygon points="601.3,480.1 596.3,482.7 596.3,477.5" fill="#161616"/>
<line x1="610.4" y1="480.1" x2="624.8" y2="480.1" stroke="#161616" stroke-width="1.3"/><polygon points="629.3,480.1 624.3,482.7 624.3,477.5" fill="#161616"/>
<line x1="486" y1="498.6" x2="500" y2="498.6" stroke="#161616" stroke-width="1.3"/><polygon points="504.5,498.6 499.5,501.2 499.5,496" fill="#161616"/>
<line x1="513.6" y1="498.6" x2="527.8" y2="498.6" stroke="#161616" stroke-width="1.3"/><polygon points="532.3,498.6 527.3,501.2 527.3,496" fill="#161616"/>
<line x1="541.4" y1="498.6" x2="555.4" y2="498.6" stroke="#161616" stroke-width="1.3"/><polygon points="559.9,498.6 554.9,501.2 554.9,496" fill="#161616"/>
<line x1="569" y1="498.6" x2="583.1" y2="498.6" stroke="#161616" stroke-width="1.3"/><polygon points="587.6,498.6 582.6,501.2 582.6,496" fill="#161616"/>
<line x1="596.7" y1="498.6" x2="611.1" y2="498.6" stroke="#161616" stroke-width="1.3"/><polygon points="615.6,498.6 610.6,501.2 610.6,496" fill="#161616"/>
<line x1="500" y1="516.7" x2="514" y2="516.7" stroke="#161616" stroke-width="1.3"/><polygon points="518.5,516.7 513.5,519.3 513.5,514.1" fill="#161616"/>
<line x1="527.6" y1="516.7" x2="541.6" y2="516.7" stroke="#161616" stroke-width="1.3"/><polygon points="546.1,516.7 541.1,519.3 541.1,514.1" fill="#161616"/>
<line x1="555.2" y1="516.7" x2="569.2" y2="516.7" stroke="#161616" stroke-width="1.3"/><polygon points="573.7,516.7 568.7,519.3 568.7,514.1" fill="#161616"/>
<line x1="582.8" y1="516.7" x2="596.8" y2="516.7" stroke="#161616" stroke-width="1.3"/><polygon points="601.3,516.7 596.3,519.3 596.3,514.1" fill="#161616"/>
<line x1="610.4" y1="516.7" x2="624.8" y2="516.7" stroke="#161616" stroke-width="1.3"/><polygon points="629.3,516.7 624.3,519.3 624.3,514.1" fill="#161616"/>
<line x1="506.71" y1="464.94" x2="501.04" y2="472.33" stroke="#161616" stroke-width="1.3"/><polygon points="498.3,475.9 499.28,470.35 503.41,473.52" fill="#161616"/>
<line x1="498.3" y1="447.1" x2="503.67" y2="454.1" stroke="#161616" stroke-width="1.3"/><polygon points="506.41,457.67 501.31,455.28 505.43,452.12" fill="#161616"/>
<line x1="511.89" y1="464.94" x2="517.71" y2="472.67" stroke="#161616" stroke-width="1.3"/><polygon points="520.41,476.27 515.33,473.83 519.48,470.71" fill="#161616"/>
<line x1="520.3" y1="447.1" x2="514.93" y2="454.1" stroke="#161616" stroke-width="1.3"/><polygon points="512.19,457.67 513.17,452.12 517.29,455.28" fill="#161616"/>
<line x1="534.51" y1="464.94" x2="528.85" y2="472.64" stroke="#161616" stroke-width="1.3"/><polygon points="526.19,476.27 527.05,470.7 531.24,473.78" fill="#161616"/>
<line x1="526.1" y1="447.1" x2="531.47" y2="454.1" stroke="#161616" stroke-width="1.3"/><polygon points="534.21,457.67 529.11,455.28 533.23,452.12" fill="#161616"/>
<line x1="539.69" y1="464.94" x2="545.35" y2="472.64" stroke="#161616" stroke-width="1.3"/><polygon points="548.01,476.27 542.96,473.78 547.15,470.7" fill="#161616"/>
<line x1="548.1" y1="447.1" x2="542.73" y2="454.1" stroke="#161616" stroke-width="1.3"/><polygon points="539.99,457.67 540.97,452.12 545.09,455.28" fill="#161616"/>
<line x1="562.11" y1="464.94" x2="556.45" y2="472.64" stroke="#161616" stroke-width="1.3"/><polygon points="553.79,476.27 554.65,470.7 558.84,473.78" fill="#161616"/>
<line x1="553.7" y1="447.1" x2="559.07" y2="454.1" stroke="#161616" stroke-width="1.3"/><polygon points="561.81,457.67 556.71,455.28 560.83,452.12" fill="#161616"/>
<line x1="567.29" y1="464.94" x2="572.95" y2="472.64" stroke="#161616" stroke-width="1.3"/><polygon points="575.61,476.27 570.56,473.78 574.75,470.7" fill="#161616"/>
<line x1="575.7" y1="447.1" x2="570.33" y2="454.1" stroke="#161616" stroke-width="1.3"/><polygon points="567.59,457.67 568.57,452.12 572.69,455.28" fill="#161616"/>
<line x1="589.81" y1="464.94" x2="584.07" y2="472.65" stroke="#161616" stroke-width="1.3"/><polygon points="581.39,476.27 582.28,470.7 586.46,473.8" fill="#161616"/>
<line x1="581.4" y1="447.1" x2="586.77" y2="454.1" stroke="#161616" stroke-width="1.3"/><polygon points="589.51,457.67 584.41,455.28 588.53,452.12" fill="#161616"/>
<line x1="594.99" y1="464.94" x2="600.57" y2="472.62" stroke="#161616" stroke-width="1.3"/><polygon points="603.21,476.27 598.17,473.75 602.38,470.69" fill="#161616"/>
<line x1="603.4" y1="447.1" x2="598.03" y2="454.1" stroke="#161616" stroke-width="1.3"/><polygon points="595.29,457.67 596.27,452.12 600.39,455.28" fill="#161616"/>
<line x1="520.71" y1="483.54" x2="514.91" y2="491.18" stroke="#161616" stroke-width="1.3"/><polygon points="512.19,494.77 513.14,489.21 517.28,492.36" fill="#161616"/>
<line x1="525.89" y1="483.54" x2="531.53" y2="491.15" stroke="#161616" stroke-width="1.3"/><polygon points="534.21,494.77 529.15,492.3 533.32,489.2" fill="#161616"/>
<line x1="548.31" y1="483.54" x2="542.67" y2="491.15" stroke="#161616" stroke-width="1.3"/><polygon points="539.99,494.77 540.88,489.2 545.05,492.3" fill="#161616"/>
<line x1="553.49" y1="483.54" x2="559.13" y2="491.15" stroke="#161616" stroke-width="1.3"/><polygon points="561.81,494.77 556.75,492.3 560.92,489.2" fill="#161616"/>
<line x1="575.91" y1="483.54" x2="570.27" y2="491.15" stroke="#161616" stroke-width="1.3"/><polygon points="567.59,494.77 568.48,489.2 572.65,492.3" fill="#161616"/>
<line x1="581.09" y1="483.54" x2="586.81" y2="491.17" stroke="#161616" stroke-width="1.3"/><polygon points="589.51,494.77 584.43,492.33 588.59,489.21" fill="#161616"/>
<line x1="603.51" y1="483.54" x2="597.95" y2="491.14" stroke="#161616" stroke-width="1.3"/><polygon points="595.29,494.77 596.14,489.2 600.34,492.27" fill="#161616"/>
<line x1="608.69" y1="483.54" x2="614.36" y2="490.93" stroke="#161616" stroke-width="1.3"/><polygon points="617.1,494.5 611.99,492.12 616.12,488.95" fill="#161616"/>
<line x1="617.1" y1="465.7" x2="611.73" y2="472.7" stroke="#161616" stroke-width="1.3"/><polygon points="608.99,476.27 609.97,470.72 614.09,473.88" fill="#161616"/>
<line x1="506.71" y1="502.04" x2="501.04" y2="509.43" stroke="#161616" stroke-width="1.3"/><polygon points="498.3,513 499.28,507.45 503.41,510.62" fill="#161616"/>
<line x1="498.3" y1="484.2" x2="503.67" y2="491.2" stroke="#161616" stroke-width="1.3"/><polygon points="506.41,494.77 501.31,492.38 505.43,489.22" fill="#161616"/>
<line x1="511.89" y1="502.04" x2="517.63" y2="509.33" stroke="#161616" stroke-width="1.3"/><polygon points="520.41,512.87 515.28,510.55 519.36,507.33" fill="#161616"/>
<line x1="534.51" y1="502.04" x2="528.93" y2="509.3" stroke="#161616" stroke-width="1.3"/><polygon points="526.19,512.87 527.17,507.32 531.3,510.49" fill="#161616"/>
<line x1="539.69" y1="502.04" x2="545.27" y2="509.3" stroke="#161616" stroke-width="1.3"/><polygon points="548.01,512.87 542.9,510.49 547.03,507.32" fill="#161616"/>
<line x1="562.11" y1="502.04" x2="556.53" y2="509.3" stroke="#161616" stroke-width="1.3"/><polygon points="553.79,512.87 554.77,507.32 558.9,510.49" fill="#161616"/>
<line x1="567.29" y1="502.04" x2="572.87" y2="509.3" stroke="#161616" stroke-width="1.3"/><polygon points="575.61,512.87 570.5,510.49 574.63,507.32" fill="#161616"/>
<line x1="589.81" y1="502.04" x2="584.15" y2="509.31" stroke="#161616" stroke-width="1.3"/><polygon points="581.39,512.87 582.41,507.32 586.51,510.52" fill="#161616"/>
<line x1="594.99" y1="502.04" x2="600.49" y2="509.28" stroke="#161616" stroke-width="1.3"/><polygon points="603.21,512.87 598.12,510.46 602.26,507.31" fill="#161616"/>
<line x1="520.71" y1="520.14" x2="515.04" y2="527.53" stroke="#161616" stroke-width="1.3"/><polygon points="512.3,531.1 513.28,525.55 517.41,528.72" fill="#161616"/>
<line x1="525.89" y1="520.14" x2="531.56" y2="527.53" stroke="#161616" stroke-width="1.3"/><polygon points="534.3,531.1 529.19,528.72 533.32,525.55" fill="#161616"/>
<line x1="548.31" y1="520.14" x2="542.64" y2="527.53" stroke="#161616" stroke-width="1.3"/><polygon points="539.9,531.1 540.88,525.55 545.01,528.72" fill="#161616"/>
<line x1="553.49" y1="520.14" x2="559.16" y2="527.53" stroke="#161616" stroke-width="1.3"/><polygon points="561.9,531.1 556.79,528.72 560.92,525.55" fill="#161616"/>
<line x1="575.91" y1="520.14" x2="570.24" y2="527.53" stroke="#161616" stroke-width="1.3"/><polygon points="567.5,531.1 568.48,525.55 572.61,528.72" fill="#161616"/>
<line x1="581.09" y1="520.14" x2="586.76" y2="527.53" stroke="#161616" stroke-width="1.3"/><polygon points="589.5,531.1 584.39,528.72 588.52,525.55" fill="#161616"/>
<line x1="603.51" y1="520.14" x2="597.84" y2="527.53" stroke="#161616" stroke-width="1.3"/><polygon points="595.1,531.1 596.08,525.55 600.21,528.72" fill="#161616"/>
<line x1="608.69" y1="520.14" x2="614.36" y2="527.53" stroke="#161616" stroke-width="1.3"/><polygon points="617.1,531.1 611.99,528.72 616.12,525.55" fill="#161616"/>
<line x1="617.1" y1="502.3" x2="611.73" y2="509.3" stroke="#161616" stroke-width="1.3"/><polygon points="608.99,512.87 609.97,507.32 614.09,510.48" fill="#161616"/>
<circle cx="509.3" cy="461.5" r="4" fill="#111"/>
<circle cx="537.1" cy="461.5" r="4" fill="#111"/>
<circle cx="564.7" cy="461.5" r="4" fill="#111"/>
<circle cx="592.4" cy="461.5" r="4" fill="#111"/>
<circle cx="523.3" cy="480.1" r="4" fill="#111"/>
<circle cx="550.9" cy="480.1" r="4" fill="#111"/>
<circle cx="578.5" cy="480.1" r="4" fill="#111"/>
<circle cx="606.1" cy="480.1" r="4" fill="#111"/>
<circle cx="509.3" cy="498.6" r="4" fill="#111"/>
<circle cx="537.1" cy="498.6" r="4" fill="#111"/>
<circle cx="564.7" cy="498.6" r="4" fill="#111"/>
<circle cx="592.4" cy="498.6" r="4" fill="#111"/>
<circle cx="523.3" cy="516.7" r="4" fill="#111"/>
<circle cx="550.9" cy="516.7" r="4" fill="#111"/>
<circle cx="578.5" cy="516.7" r="4" fill="#111"/>
<circle cx="606.1" cy="516.7" r="4" fill="#111"/>
<g style="filter:grayscale(1)"><text x="77.2" y="23" font-size="22" textLength="25" lengthAdjust="spacingAndGlyphs">(<tspan dy="1.6" font-size="24.5">a</tspan><tspan dy="-1.6">)</tspan></text><text x="288.7" y="23" font-size="22" textLength="26.4" lengthAdjust="spacingAndGlyphs">(<tspan dy="1.6" font-size="24.5">b</tspan><tspan dy="-1.6">)</tspan></text><text x="505" y="23" font-size="22" textLength="23.2" lengthAdjust="spacingAndGlyphs">(<tspan dy="1.6" font-size="24.5">c</tspan><tspan dy="-1.6">)</tspan></text><text x="191.4" y="159" font-size="23.5" text-anchor="start" textLength="24.2" lengthAdjust="spacingAndGlyphs">23</text><text x="330.2" y="159.9" font-size="23.5" text-anchor="start" textLength="30.3" lengthAdjust="spacingAndGlyphs">8.9</text><text x="554.6" y="157.9" font-size="23.5" text-anchor="start" textLength="26.3" lengthAdjust="spacingAndGlyphs">3.1</text><text x="54.5" y="38.9" font-size="21.3" text-anchor="end">1</text><text x="54.9" y="96.8" font-size="21.3" text-anchor="end">0</text><text x="52.7" y="153" font-size="21.3" text-anchor="end" textLength="17.5" lengthAdjust="spacingAndGlyphs">−1</text><text x="64.5" y="204.5" font-size="21.5" text-anchor="middle">0</text><text x="174.3" y="204.5" font-size="21.5" text-anchor="middle">20</text><text x="277.7" y="204.5" font-size="21.5" text-anchor="middle">0</text><text x="363.5" y="204.5" font-size="21.5" text-anchor="middle">20</text><text x="449.5" y="204.5" font-size="21.5" text-anchor="middle">40</text><text x="493" y="204.5" font-size="21.5" text-anchor="middle">0</text><text x="571.8" y="204.5" font-size="21.5" text-anchor="middle">5</text><text x="650.7" y="204.5" font-size="21.5" text-anchor="middle">10</text><text x="117.2" y="238" font-size="23.5" text-anchor="start" textLength="79.5" lengthAdjust="spacingAndGlyphs">Time [s]</text><text x="330.7" y="238" font-size="23.5" text-anchor="start" textLength="79.5" lengthAdjust="spacingAndGlyphs">Time [s]</text><text x="544.4" y="238" font-size="23.5" text-anchor="start" textLength="79.5" lengthAdjust="spacingAndGlyphs">Time [s]</text><text transform="translate(19.8 169.8) rotate(-90)" font-size="23.5" textLength="157" lengthAdjust="spacingAndGlyphs">Relative tempo</text><text x="80.4" y="293" font-size="22" textLength="26.2" lengthAdjust="spacingAndGlyphs">(<tspan dy="1.6" font-size="24.5">d</tspan><tspan dy="-1.6">)</tspan></text><text x="54.8" y="278" font-size="21.5" text-anchor="end">30</text><text x="54.8" y="385.1" font-size="21.5" text-anchor="end">20</text><text x="54.8" y="490" font-size="21.5" text-anchor="end">10</text><text x="54.8" y="596.8" font-size="21.5" text-anchor="end">0</text><text x="232" y="619.8" font-size="21.5" text-anchor="middle">1</text><text x="373.7" y="619.8" font-size="21.5" text-anchor="middle">2</text><text x="513.8" y="619.8" font-size="21.5" text-anchor="middle">3</text><text x="257.3" y="653" font-size="23" text-anchor="start" textLength="223.5" lengthAdjust="spacingAndGlyphs">Number of neighbors</text><text transform="translate(20 584.3) rotate(-90)" font-size="23.5" textLength="321.5" lengthAdjust="spacingAndGlyphs">FWHM oscillation amplitude [s]</text></g>
</svg>
</body></html>
